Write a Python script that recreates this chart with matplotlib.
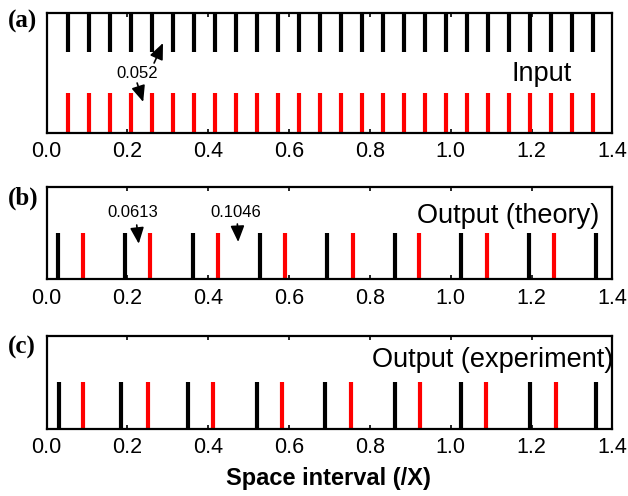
import matplotlib
matplotlib.use("Agg")
import matplotlib.pyplot as plt

plt.rcParams['font.family'] = ['Liberation Sans', 'DejaVu Sans']

# Input: both pulse trains sit on the same grid (interval 0.052)
input_black = [0.052, 0.104, 0.156, 0.208, 0.260, 0.312, 0.364, 0.416, 0.468,
               0.520, 0.572, 0.624, 0.676, 0.728, 0.780, 0.832, 0.884, 0.936,
               0.988, 1.040, 1.092, 1.144, 1.196, 1.248, 1.300, 1.352]
input_red = [0.052, 0.104, 0.156, 0.208, 0.260, 0.312, 0.364, 0.416, 0.468,
             0.520, 0.572, 0.624, 0.676, 0.728, 0.780, 0.832, 0.884, 0.936,
             0.988, 1.040, 1.092, 1.144, 1.196, 1.248, 1.300, 1.352]

# Output, theory
theory_black = [0.029, 0.194, 0.362, 0.527, 0.695, 0.861, 1.026, 1.194, 1.359]
theory_red = [0.089, 0.255, 0.424, 0.589, 0.757, 0.921, 1.089, 1.256]

# Output, experiment
exp_black = [0.030, 0.184, 0.350, 0.521, 0.690, 0.861, 1.026, 1.196, 1.359]
exp_red = [0.090, 0.250, 0.412, 0.583, 0.754, 0.925, 1.088, 1.260]

xticks = [0.0, 0.2, 0.4, 0.6, 0.8, 1.0, 1.2, 1.4]
xticklabels = ['0.0', '0.2', '0.4', '0.6', '0.8', '1.0', '1.2', '1.4']

panel_tags = ['(a)', '(b)', '(c)']
panel_titles = ['Input', 'Output (theory)', 'Output (experiment)']
xlabel = 'Space interval (/X)'

fig = plt.figure(figsize=(6.28, 4.96), dpi=100)
L, W = 0.0742, 0.901
ax_a = fig.add_axes([L, 0.7325, W, 0.2413])
ax_b = fig.add_axes([L, 0.4369, W, 0.1867])
ax_c = fig.add_axes([L, 0.1351, W, 0.1880])

BAR_LW = 3.0
for ax in (ax_a, ax_b, ax_c):
    ax.set_xlim(0, 1.4)
    ax.set_ylim(0, 1)
    ax.set_yticks([])
    ax.set_xticks(xticks)
    ax.set_xticklabels(xticklabels)
    ax.tick_params(axis='x', direction='in', top=True, bottom=True,
                   length=3.0, width=1.2, labelsize=15.5, pad=6)
    for s in ax.spines.values():
        s.set_linewidth(1.6)

# (a) input
ax_a.vlines(input_black, 0.675, 1.0, colors='black', lw=BAR_LW)
ax_a.vlines(input_red, 0.0, 0.33, colors='#ff0000', lw=BAR_LW)
ax_a.text(1.299, 0.432, panel_titles[0], ha='right', va='baseline', fontsize=19.5)
ax_a.text(0.224, 0.496, '0.052', ha='center', va='center', fontsize=12)
arrow = dict(arrowstyle='-|>,head_length=0.7,head_width=0.3', color='black',
             lw=1.2, mutation_scale=14, shrinkA=0, shrinkB=0)
ax_a.annotate('', xy=(0.288, 0.749), xytext=(0.266, 0.582), arrowprops=arrow)
ax_a.annotate('', xy=(0.239, 0.257), xytext=(0.224, 0.415), arrowprops=arrow)

# (b) theory
ax_b.vlines(theory_black, 0.0, 0.5, colors='black', lw=BAR_LW)
ax_b.vlines(theory_red, 0.0, 0.5, colors='#ff0000', lw=BAR_LW)
ax_b.text(1.367, 0.605, panel_titles[1], ha='right', va='baseline', fontsize=19.5)
ax_b.text(0.214, 0.721, '0.0613', ha='center', va='center', fontsize=12)
ax_b.text(0.467, 0.721, '0.1046', ha='center', va='center', fontsize=12)
ax_b.annotate('', xy=(0.228, 0.384), xytext=(0.223, 0.586), arrowprops=arrow)
ax_b.annotate('', xy=(0.474, 0.403), xytext=(0.472, 0.597), arrowprops=arrow)

# (c) experiment
ax_c.vlines(exp_black, 0.0, 0.5, colors='black', lw=BAR_LW)
ax_c.vlines(exp_red, 0.0, 0.5, colors='#ff0000', lw=BAR_LW)
ax_c.text(1.401, 0.661, panel_titles[2], ha='right', va='baseline', fontsize=19.5)

# panel tags
tag_y = [1 - 21 / 496, 1 - 198 / 496, 1 - 347 / 496]
for tag, y in zip(panel_tags, tag_y):
    fig.text(8 / 628, y, tag, ha='left', va='center', fontsize=18,
             fontweight='bold', family=['Liberation Serif', 'DejaVu Serif'])

fig.text(328 / 628, 1 - 478 / 496, xlabel, ha='center', va='center',
         fontsize=17, fontweight='bold')

fig.savefig('out.png', dpi=100)
